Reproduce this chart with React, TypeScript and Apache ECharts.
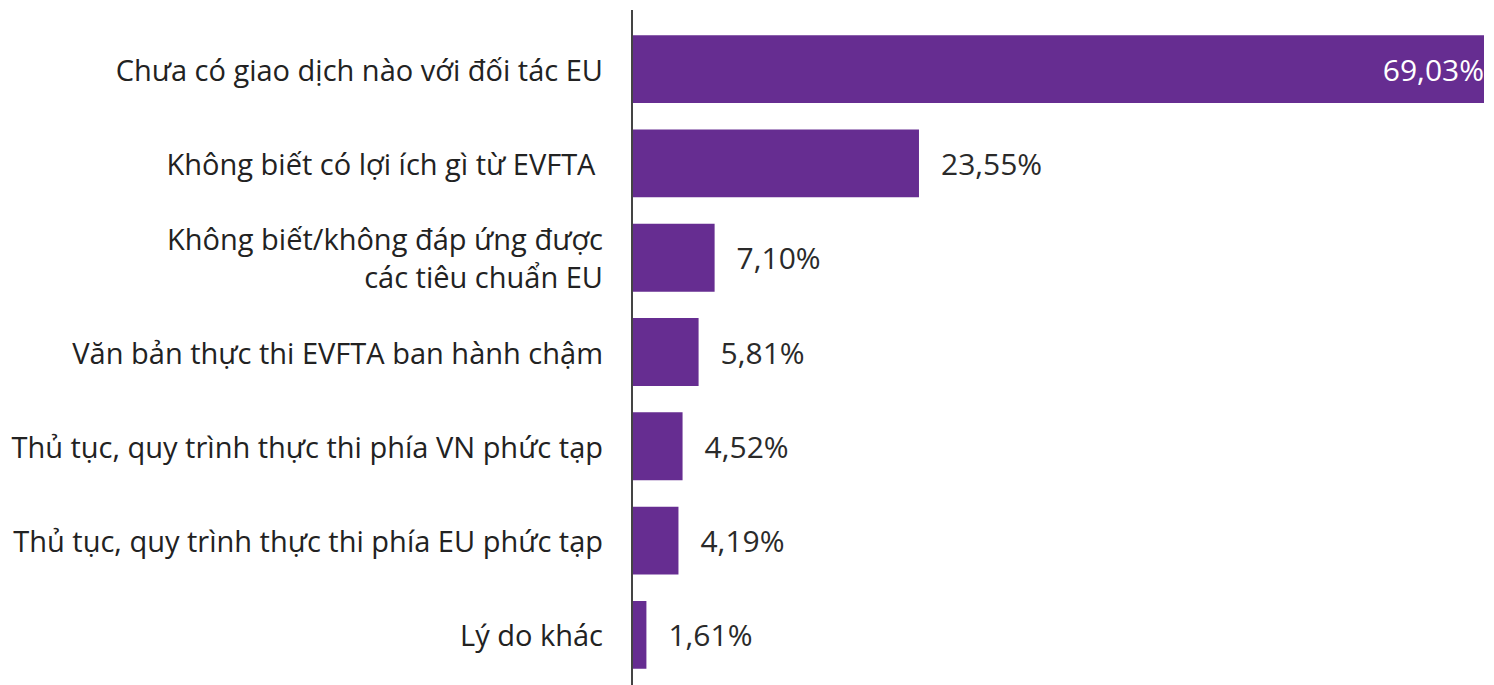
import React, { useEffect, useRef } from "react";
import * as echarts from "echarts";

const categories = [
  "Chưa có giao dịch nào với đối tác EU",
  "Không biết có lợi ích gì từ EVFTA ",
  "Không biết/không đáp ứng được\ncác tiêu chuẩn EU",
  "Văn bản thực thi EVFTA ban hành chậm",
  "Thủ tục, quy trình thực thi phía VN phức tạp",
  "Thủ tục, quy trình thực thi phía EU phức tạp",
  "Lý do khác",
];
const values = [69.03, 23.55, 7.1, 5.81, 4.52, 4.19, 1.61];

const FONT = "'Open Sans', sans-serif";
const fmt = (v: number) => v.toFixed(2).replace(".", ",") + "%";

export default function App() {
  const ref = useRef<HTMLDivElement>(null);
  useEffect(() => {
    const chart = echarts.init(ref.current!, null, { renderer: "svg" });
    chart.setOption({
      animation: false,
      grid: { left: 632, right: 10, top: 22, height: 660 },
      xAxis: {
        type: "value",
        min: 0.45,
        max: 69.03,
        show: false,
      },
      yAxis: {
        type: "category",
        inverse: true,
        data: categories,
        axisLine: { show: false },
        axisTick: { show: false },
        axisLabel: {
          margin: 29,
          fontSize: 29,
          lineHeight: 38,
          color: "#222",
          fontFamily: FONT,
        },
      },
      graphic: [
        {
          type: "line",
          z: 100,
          shape: { x1: 632, y1: 10, x2: 632, y2: 685 },
          style: { stroke: "#444", lineWidth: 2 },
        },
      ],
      series: [
        {
          type: "bar",
          clip: true,
          barCategoryGap: "28%",
          itemStyle: { color: "#662D91" },
          data: values.map((v, i) => ({
            value: v,
            label:
              i === 0
                ? { position: "insideRight", distance: 0, color: "#fff" }
                : { position: "right", distance: 22, color: "#2a2a2a" },
          })),
          label: {
            show: true,
            fontSize: 30,
            fontFamily: FONT,
            formatter: (p: any) => fmt(p.value),
          },
        },
      ],
    });
    return () => chart.dispose();
  }, []);
  return (
    <div
      ref={ref}
      style={{ position: "fixed", left: 0, top: 0, width: 1494, height: 685, background: "#fff" }}
    />
  );
}
